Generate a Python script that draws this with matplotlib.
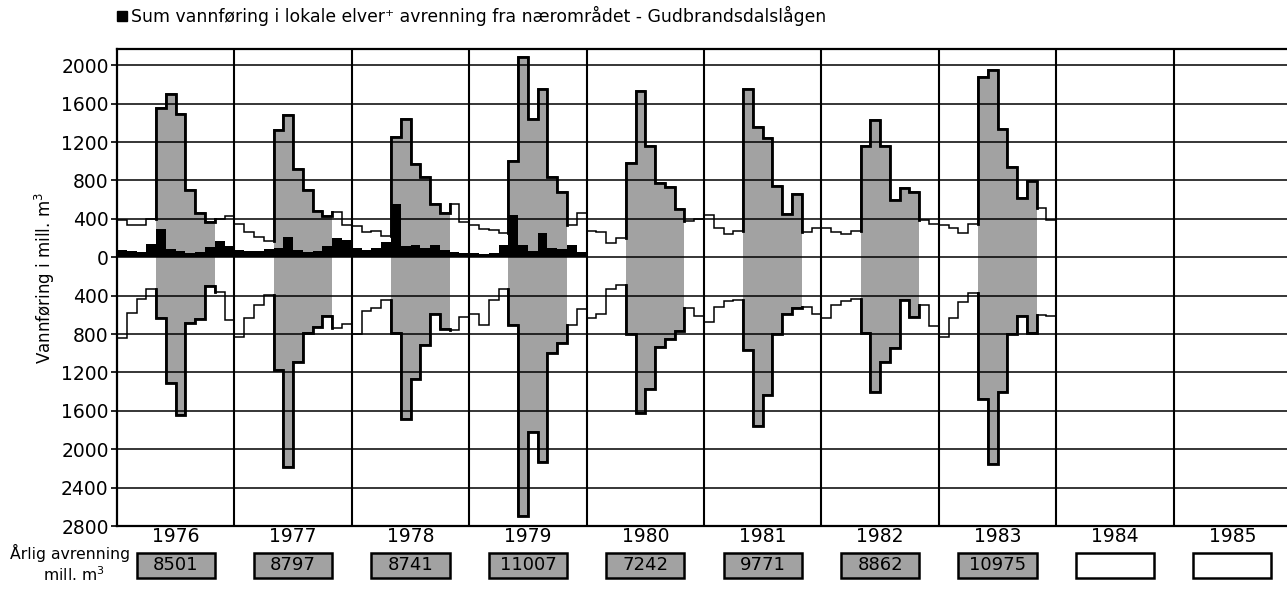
import matplotlib
matplotlib.use("Agg")
import matplotlib.pyplot as plt
import numpy as np
import matplotlib.transforms as mtransforms
from matplotlib.patches import Rectangle

# ---------------- data (mill. m3 per month) ----------------
years = [1976, 1977, 1978, 1979, 1980, 1981, 1982, 1983, 1984, 1985]

# upper series (drawn above zero)
upper_1976 = [390, 340, 340, 400, 1560, 1700, 1490, 700, 460, 370, 395, 430]
upper_1977 = [350, 260, 215, 170, 1330, 1480, 920, 700, 480, 430, 475, 340]
upper_1978 = [330, 265, 270, 220, 1250, 1440, 975, 840, 560, 460, 560, 370]
upper_1979 = [340, 290, 285, 255, 1000, 2085, 1440, 1750, 840, 680, 340, 460]
upper_1980 = [270, 265, 150, 200, 980, 1730, 1160, 770, 730, 500, 380, 400]
upper_1981 = [440, 300, 240, 270, 1750, 1360, 1240, 740, 450, 660, 260, 300]
upper_1982 = [310, 260, 240, 270, 1160, 1430, 1160, 600, 720, 680, 390, 350]
upper_1983 = [340, 300, 250, 350, 1880, 1950, 1340, 940, 620, 790, 510, 390]

# lower series (drawn below zero, axis labelled with absolute values)
lower_1976 = [840, 580, 430, 330, 630, 1310, 1640, 690, 640, 300, 360, 650]
lower_1977 = [830, 630, 500, 390, 1170, 2190, 1090, 790, 730, 610, 740, 700]
lower_1978 = [800, 560, 530, 450, 790, 1680, 1270, 910, 590, 750, 760, 620]
lower_1979 = [590, 710, 450, 330, 710, 2700, 1820, 2130, 1000, 890, 710, 540]
lower_1980 = [630, 590, 330, 290, 800, 1620, 1370, 940, 850, 770, 530, 610]
lower_1981 = [670, 520, 460, 450, 970, 1760, 1430, 800, 590, 530, 520, 590]
lower_1982 = [630, 500, 460, 430, 790, 1400, 1090, 950, 450, 620, 500, 720]
lower_1983 = [830, 630, 470, 370, 1480, 2150, 1400, 800, 610, 790, 600, 610]

# sum of local rivers + runoff from nearby area (black)
local_1976 = [80, 70, 60, 140, 290, 90, 70, 40, 60, 110, 170, 120]
local_1977 = [80, 70, 70, 90, 100, 215, 80, 50, 70, 120, 205, 180]
local_1978 = [100, 75, 100, 155, 560, 120, 130, 100, 125, 80, 60, 40]
local_1979 = [40, 30, 40, 125, 440, 130, 70, 250, 100, 90, 130, 50]

annual_runoff = [8501, 8797, 8741, 11007, 7242, 9771, 8862, 10975, None, None]

yticks = [-2800, -2400, -2000, -1600, -1200, -800, -400, 0, 400, 800, 1200, 1600, 2000]

title = "Sum vannføring i lokale elver\u207a avrenning fra nærområdet - Gudbrandsdalslågen"

# ---------------- figure ----------------
W, H = 1287, 589
fig = plt.figure(figsize=(W / 100, H / 100), dpi=100)
ax = fig.add_axes([117 / W, 1 - 526 / H, 1174 / W, 477 / H])
ax.set_xlim(0, 12 * len(years))
ax.set_ylim(-2800, 2170)

upper = np.array(upper_1976 + upper_1977 + upper_1978 + upper_1979 +
                 upper_1980 + upper_1981 + upper_1982 + upper_1983, float)
lower = -np.array(lower_1976 + lower_1977 + lower_1978 + lower_1979 +
                  lower_1980 + lower_1981 + lower_1982 + lower_1983, float)
local = np.array(local_1976 + local_1977 + local_1978 + local_1979, float)
edges = np.arange(len(upper) + 1)

gray = "#a2a2a2"
nyears_data = len(upper) // 12

# gray summer (May-Oct) fills
for yi in range(nyears_data):
    s, e = 12 * yi + 4, 12 * yi + 10
    for ser in (upper, lower):
        ax.stairs(ser[s:e], edges[s:e + 1], baseline=0, fill=True,
                  color=gray, lw=0, zorder=2)

# grid lines
for yv in yticks:
    ax.axhline(yv, color="black", lw=1.1, zorder=3)
for k in range(1, len(years)):
    ax.axvline(12 * k, color="black", lw=1.5, zorder=7)

# black local series
ax.stairs(local, np.arange(len(local) + 1), baseline=0, fill=True,
          color="black", lw=0, zorder=4)

# thin step lines
for ser in (upper, lower):
    ax.stairs(ser, edges, baseline=None, color="black", lw=1.1, zorder=5)

# thick outline for the summer months
for yi in range(nyears_data):
    s, e = 12 * yi + 4, 12 * yi + 10
    for ser in (upper, lower):
        px, py = [s], [ser[s - 1]]
        for i in range(s, e):
            px += [i, i + 1]
            py += [ser[i], ser[i]]
        if e < len(ser):
            px.append(e)
            py.append(ser[e])
        ax.plot(px, py, color="black", lw=2.0, zorder=6,
                solid_joinstyle="miter", solid_capstyle="projecting")

# axes styling
ax.set_xticks([])
ax.set_yticks(yticks)
ax.set_yticklabels([str(abs(v)) for v in yticks])
ax.tick_params(axis="y", direction="out", length=4, width=1.2, labelsize=13.5, pad=2)
for side in ("left", "top", "bottom"):
    ax.spines[side].set_linewidth(1.6)
ax.spines["right"].set_visible(False)

# year labels and annual runoff boxes
trans = mtransforms.blended_transform_factory(ax.transData, fig.transFigure)
for k, (yr, val) in enumerate(zip(years, annual_runoff)):
    xc = 12 * k + 6
    ax.text(xc, 1 - 537 / H, str(yr), ha="center", va="center",
            fontsize=13.5, transform=trans)
    rect = Rectangle((xc - 4, 1 - 578 / H), 8, 25 / H, transform=trans,
                     facecolor=gray if val is not None else "white",
                     edgecolor="black", lw=1.8, clip_on=False, zorder=3)
    ax.add_artist(rect)
    if val is not None:
        ax.text(xc, 1 - 565.5 / H, str(val), ha="center", va="center",
                fontsize=13, transform=trans, zorder=4)

fig.text(70 / W, 1 - 553 / H, "Årlig avrenning", ha="center", va="center", fontsize=11.3)
fig.text(74 / W, 1 - 575 / H, "mill. m$^3$", ha="center", va="center", fontsize=11.3)

# y label
fig.text(45 / W, 1 - 278 / H, "Vannføring i mill. m$^3$", rotation=90,
         ha="center", va="center", fontsize=12)

# legend / title
fig.add_artist(Rectangle((117 / W, 1 - 21 / H), 10 / W, 10 / H,
                         transform=fig.transFigure, color="black"))
fig.text(131 / W, 1 - 15.5 / H, title, ha="left", va="center", fontsize=12.4)

fig.savefig("out.png", dpi=100)
